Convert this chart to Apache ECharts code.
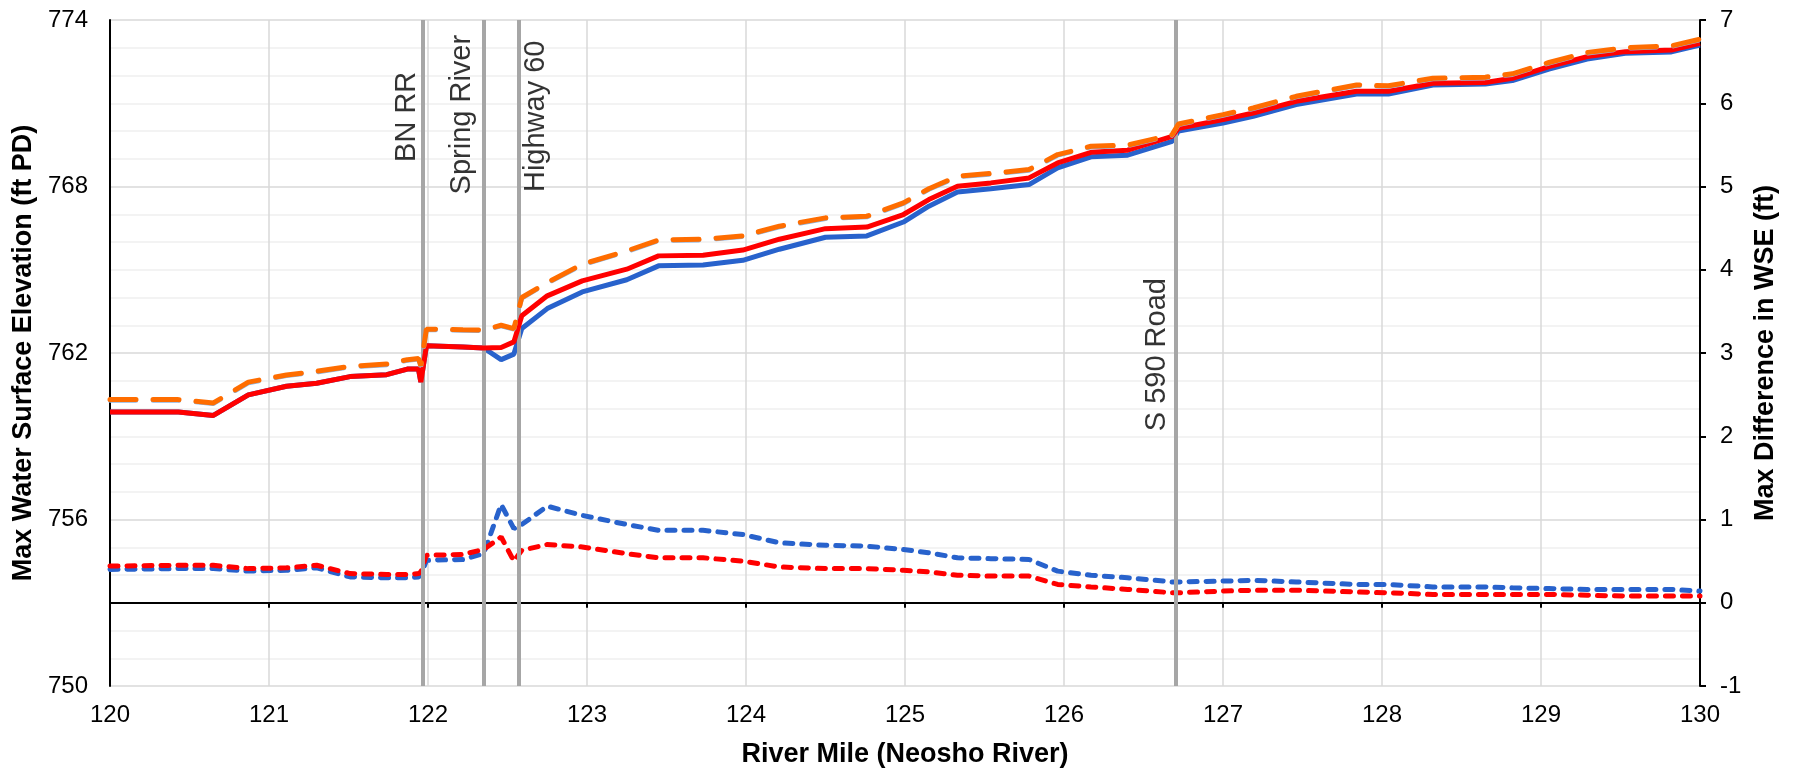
<!DOCTYPE html>
<html>
<head>
<meta charset="utf-8">
<script src="https://cdn.jsdelivr.net/npm/echarts@6/dist/echarts.min.js"></script>
<style>html,body{margin:0;padding:0;background:#fff}#c{width:1793px;height:773px}</style>
</head>
<body>
<div id="c"></div>
<script>
// ---- data ----
const riverMile = [120.00,120.43,120.65,120.87,121.11,121.30,121.51,121.74,121.87,121.94,121.955,121.99,122.22,122.35,122.46,122.54,122.59,122.75,122.97,123.25,123.45,123.73,123.98,124.21,124.50,124.76,124.99,125.15,125.33,125.54,125.78,125.96,126.17,126.40,126.68,126.72,127.00,127.19,127.46,127.84,128.04,128.32,128.65,128.82,129.05,129.29,129.53,129.82,130.00];
const wseBlue   = [759.87,759.87,759.75,760.49,760.80,760.91,761.15,761.22,761.42,761.42,760.95,762.26,762.22,762.18,761.76,761.96,762.88,763.60,764.20,764.64,765.14,765.17,765.34,765.74,766.17,766.22,766.72,767.29,767.80,767.92,768.07,768.67,769.07,769.13,769.63,770.00,770.29,770.53,770.95,771.33,771.33,771.66,771.69,771.82,772.23,772.59,772.80,772.85,773.10];
const wseRed    = [759.87,759.87,759.75,760.49,760.80,760.91,761.15,761.22,761.42,761.42,760.95,762.26,762.22,762.18,762.20,762.40,763.34,764.06,764.60,765.02,765.50,765.52,765.71,766.10,766.48,766.54,766.99,767.53,768.01,768.13,768.31,768.85,769.23,769.31,769.81,770.10,770.41,770.65,771.07,771.43,771.43,771.72,771.75,771.90,772.32,772.68,772.86,772.92,773.16];
const wseLightBlue = [760.29,760.29,760.17,760.92,761.18,761.31,761.49,761.57,761.73,761.77,761.51,762.83,762.81,762.80,762.97,762.85,763.97,764.51,765.17,765.65,766.04,766.07,766.19,766.54,766.84,766.90,767.38,767.89,768.34,768.44,768.58,769.12,769.42,769.46,769.84,770.22,770.56,770.80,771.22,771.63,771.60,771.87,771.91,772.03,772.44,772.80,772.97,773.04,773.28];
const wseOrange = [760.32,760.32,760.20,760.95,761.21,761.34,761.52,761.60,761.76,761.80,761.54,762.86,762.84,762.83,763.00,762.88,764.00,764.54,765.20,765.68,766.07,766.10,766.22,766.57,766.87,766.93,767.41,767.92,768.37,768.47,768.61,769.15,769.45,769.49,769.87,770.25,770.59,770.83,771.25,771.66,771.63,771.90,771.94,772.06,772.47,772.83,773.00,773.07,773.31];
const diffBlue  = [0.40,0.41,0.41,0.38,0.39,0.42,0.31,0.30,0.30,0.31,0.33,0.51,0.52,0.59,1.18,0.89,0.94,1.16,1.05,0.94,0.87,0.87,0.82,0.72,0.69,0.68,0.64,0.60,0.54,0.53,0.52,0.38,0.33,0.30,0.25,0.25,0.26,0.27,0.25,0.22,0.22,0.19,0.19,0.18,0.17,0.16,0.16,0.16,0.14];
const diffRed   = [0.44,0.45,0.45,0.41,0.42,0.45,0.35,0.34,0.34,0.35,0.37,0.57,0.58,0.64,0.79,0.50,0.63,0.70,0.67,0.59,0.54,0.54,0.50,0.43,0.41,0.41,0.39,0.37,0.33,0.32,0.32,0.22,0.19,0.16,0.12,0.12,0.14,0.15,0.15,0.13,0.12,0.10,0.10,0.10,0.10,0.09,0.08,0.08,0.08];
const annoMiles = [121.97, 122.35, 122.57, 126.70];
const annoNames = ['BN RR', 'Spring River', 'Highway 60', 'S 590 Road'];
const xTicks = {min: 120, max: 130, step: 1};
const leftTicks = {min: 750, max: 774, step: 6};
const rightTicks = {min: -1, max: 7, step: 1};

// ---- chart ----
const FONT = '"Liberation Sans", Arial, sans-serif';
const pairs = ys => riverMile.map((x, i) => [x, ys[i]]);
// label placement (style): vertical anchor on left axis and pixel offset from the line
const annoLabelY = [770.51, 770.59, 770.53, 761.94];
const annoLabelDx = [-16.5, -21.5, 17.5, -18];

const chart = echarts.init(document.getElementById('c'), null, {renderer: 'canvas', width: 1793, height: 773});
const lineBase = {type: 'line', showSymbol: false, symbol: 'none', smooth: false, silent: true, animation: false};

const option = {
  animation: false,
  backgroundColor: '#ffffff',
  textStyle: {fontFamily: FONT},
  grid: {left: 110, right: 93, top: 20, bottom: 85, containLabel: false},
  xAxis: [
    {
      type: 'value', min: xTicks.min, max: xTicks.max, interval: xTicks.step, position: 'bottom',
      axisLine: {show: false, onZero: false}, axisTick: {show: false},
      axisLabel: {fontSize: 24, color: '#000', margin: 17, fontFamily: FONT},
      splitLine: {show: true, lineStyle: {color: '#D9D9D9', width: 1.5}},
      name: 'River Mile (Neosho River)', nameLocation: 'middle', nameGap: 55,
      nameTextStyle: {fontSize: 27, fontWeight: 'bold', color: '#000', fontFamily: FONT}
    },
    {
      type: 'value', min: xTicks.min, max: xTicks.max, interval: xTicks.step, position: 'bottom',
      axisLine: {show: true, onZero: true, onZeroAxisIndex: 1, lineStyle: {color: '#000', width: 2}},
      axisTick: {show: true, inside: false, length: 5, lineStyle: {color: '#000', width: 2}},
      axisLabel: {show: false}, splitLine: {show: false}
    }
  ],
  yAxis: [
    {
      type: 'value', position: 'left', min: leftTicks.min, max: leftTicks.max, interval: leftTicks.step,
      axisLine: {show: true, onZero: false, lineStyle: {color: '#000', width: 2}},
      axisTick: {show: false},
      axisLabel: {fontSize: 24, color: '#000', margin: 22, fontFamily: FONT},
      splitLine: {show: true, lineStyle: {color: '#D9D9D9', width: 1.5}},
      minorTick: {show: false, splitNumber: 6},
      minorSplitLine: {show: true, lineStyle: {color: '#EFEFEF', width: 1.5}},
      name: 'Max Water Surface Elevation (ft PD)', nameLocation: 'middle', nameGap: 62,
      nameTextStyle: {fontSize: 27, fontWeight: 'bold', color: '#000', fontFamily: FONT}
    },
    {
      type: 'value', position: 'right', min: rightTicks.min, max: rightTicks.max, interval: rightTicks.step,
      axisLine: {show: true, onZero: false, lineStyle: {color: '#000', width: 2}},
      axisTick: {show: true, inside: false, length: 6, lineStyle: {color: '#000', width: 2}},
      axisLabel: {fontSize: 24, color: '#000', margin: 20, fontFamily: FONT},
      splitLine: {show: false},
      name: 'Max Difference in WSE (ft)', nameLocation: 'middle', nameGap: 52,
      nameTextStyle: {fontSize: 27, fontWeight: 'bold', color: '#000', fontFamily: FONT}
    }
  ],
  series: [
    Object.assign({}, lineBase, {name: 'Diff Blue', yAxisIndex: 1, z: 2, data: pairs(diffBlue),
      lineStyle: {color: '#2862CC', width: 5, type: [8, 9], cap: 'round'}}),
    Object.assign({}, lineBase, {name: 'Diff Red', yAxisIndex: 1, z: 3, data: pairs(diffRed),
      lineStyle: {color: '#FF0000', width: 5, type: [8, 9], cap: 'round'}}),
    Object.assign({}, lineBase, {name: 'WSE Blue', yAxisIndex: 0, z: 4, data: pairs(wseBlue),
      lineStyle: {color: '#2862CC', width: 5}}),
    Object.assign({}, lineBase, {name: 'WSE Red', yAxisIndex: 0, z: 5, data: pairs(wseRed),
      lineStyle: {color: '#FF0000', width: 5}}),
    Object.assign({}, lineBase, {name: 'WSE Light Blue', yAxisIndex: 0, z: 6, data: pairs(wseLightBlue),
      lineStyle: {color: '#8DB4E2', width: 4.5, type: [26, 17], cap: 'round'}}),
    Object.assign({}, lineBase, {name: 'WSE Orange', yAxisIndex: 0, z: 7, data: pairs(wseOrange),
      lineStyle: {color: '#FF6D00', width: 5, type: [26, 17], cap: 'round'}}),
    {
      type: 'scatter', name: 'Structures', xAxisIndex: 0, yAxisIndex: 0, z: 10, silent: true,
      symbolSize: 1, itemStyle: {color: 'rgba(0,0,0,0)'},
      data: annoMiles.map((m, i) => ({
        value: [m, annoLabelY[i]], name: annoNames[i],
        label: {show: true, position: 'inside', offset: [0, annoLabelDx[i]], rotate: 90,
          align: 'center', verticalAlign: 'middle', formatter: annoNames[i],
          fontSize: 29, color: '#000', fontFamily: FONT}
      })),
      markLine: {
        silent: true, symbol: ['none', 'none'], animation: false,
        label: {show: false},
        lineStyle: {color: '#A6A6A6', width: 4, type: 'solid'},
        emphasis: {disabled: true},
        data: annoMiles.map(m => ({xAxis: m}))
      }
    }
  ]
};
chart.setOption(option);
</script>
</body>
</html>
